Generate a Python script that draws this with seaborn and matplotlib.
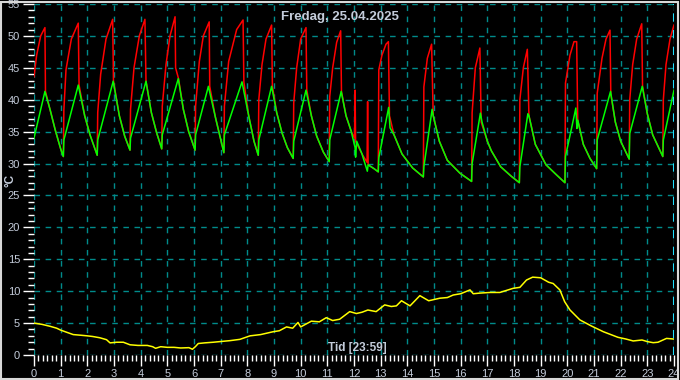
import matplotlib
matplotlib.use('Agg')
import matplotlib.pyplot as plt
from matplotlib.ticker import MultipleLocator
from matplotlib.patches import Rectangle
import seaborn as sns
import pandas as pd

# Flow temperature (red), hours / degC
red_t = [0.0, 0.1, 0.25, 0.41, 0.43, 0.6, 0.8, 1.0, 1.1,
         1.12, 1.2, 1.4, 1.66, 1.69, 1.9, 2.1, 2.37,
         2.39, 2.5, 2.7, 2.95, 2.98, 3.2, 3.4, 3.6,
         3.62, 3.75, 3.95, 4.16, 4.2, 4.4, 4.6, 4.79,
         4.81, 4.95, 5.1, 5.29, 5.31, 5.42, 5.6, 5.8, 6.04,
         6.06, 6.2, 6.35, 6.57, 6.59, 6.8, 7.0, 7.12,
         7.14, 7.3, 7.6, 7.84, 7.87, 8.05, 8.25, 8.41,
         8.43, 8.55, 8.7, 8.91, 8.94, 9.1, 9.3, 9.5, 9.72,
         9.74, 9.85, 10.0, 10.2, 10.23, 10.4, 10.6, 10.85, 11.07,
         11.09, 11.2, 11.35, 11.5, 11.53, 11.7, 11.9, 12.02, 12.04, 12.06,
         12.3, 12.49, 12.51, 12.53, 12.75, 12.91,
         12.93, 13.05, 13.2, 13.29, 13.33, 13.5, 13.8, 14.2, 14.6,
         14.62, 14.75, 14.91, 14.97, 15.2, 15.5, 15.97, 16.41,
         16.43, 16.55, 16.72, 16.77, 17.0, 17.15, 17.5, 17.9, 18.2,
         18.22, 18.35, 18.5, 18.56, 18.8, 19.2, 19.6, 19.91,
         19.93, 20.1, 20.25, 20.35, 20.39, 20.6, 20.85, 21.1,
         21.12, 21.3, 21.45, 21.6, 21.63, 21.8, 22.0, 22.32,
         22.34, 22.45, 22.6, 22.79, 22.82, 23.0, 23.2, 23.58,
         23.6, 23.7, 23.85, 24.0]
red_v = [43.6, 47.0, 50.0, 51.3, 41.3, 38.5, 35.2, 32.3, 31.1,
         38.4, 44.7, 49.5, 52.0, 42.3, 37.5, 34.5, 31.3,
         38.0, 44.0, 49.5, 52.6, 42.9, 37.5, 34.3, 32.1,
         38.5, 45.0, 50.0, 52.6, 42.9, 38.0, 34.8, 32.3,
         39.0, 45.5, 50.0, 53.0, 45.0, 43.3, 38.5, 35.0, 32.1,
         39.0, 46.0, 50.0, 52.2, 42.1, 37.3, 33.8, 31.7,
         39.0, 46.0, 51.0, 52.5, 42.8, 37.5, 33.5, 31.3,
         40.0, 45.5, 49.5, 51.7, 42.1, 38.0, 34.8, 32.5, 30.8,
         39.5, 45.0, 49.5, 51.3, 41.5, 37.5, 34.3, 31.8, 30.3,
         40.5, 45.0, 49.0, 50.8, 41.3, 37.5, 35.0, 34.0, 41.5, 33.5,
         31.5, 30.2, 39.7, 29.8, 29.2, 28.7,
         44.7, 47.0, 48.7, 49.1, 37.5, 34.5, 31.5, 29.3, 27.9,
         42.0, 46.5, 48.7, 37.5, 33.5, 30.5, 28.5, 27.2,
         38.0, 45.0, 48.1, 36.5, 33.5, 32.0, 29.5, 28.0, 27.0,
         40.0, 45.0, 47.9, 37.5, 33.0, 29.8, 28.2, 27.0,
         42.6, 47.0, 49.1, 49.1, 36.8, 33.0, 30.8, 29.2,
         41.0, 46.5, 49.5, 50.9, 40.9, 36.5, 33.5, 30.7,
         40.0, 45.5, 49.5, 51.9, 42.1, 37.8, 34.5, 31.1,
         40.0, 45.5, 49.5, 51.7]

# Return temperature (green)
green_t = [0.0, 0.41, 0.6, 0.8, 1.0, 1.1,
           1.12, 1.66, 1.9, 2.1, 2.37,
           2.39, 2.97, 3.2, 3.4, 3.6,
           3.62, 4.2, 4.4, 4.6, 4.79,
           4.81, 5.41, 5.6, 5.8, 6.04,
           6.06, 6.54, 6.8, 7.0, 7.12,
           7.14, 7.8, 8.05, 8.25, 8.41,
           8.43, 8.91, 9.1, 9.3, 9.5, 9.72,
           9.74, 10.2, 10.4, 10.6, 10.85, 11.07,
           11.09, 11.52, 11.7, 11.9, 12.04, 12.06, 12.1, 12.3, 12.5, 12.53, 12.75, 12.91,
           12.93, 13.3, 13.35, 13.5, 13.8, 14.2, 14.6,
           14.62, 14.93, 14.97, 15.2, 15.5, 15.97, 16.41,
           16.43, 16.74, 16.8, 17.0, 17.15, 17.5, 17.9, 18.2,
           18.22, 18.52, 18.56, 18.8, 19.2, 19.6, 19.91,
           19.93, 20.32, 20.36, 20.39, 20.6, 20.85, 21.1,
           21.12, 21.62, 21.8, 22.0, 22.32,
           22.34, 22.81, 23.0, 23.2, 23.58,
           23.6, 24.0]
green_v = [34.0, 41.3, 38.5, 35.2, 32.3, 31.1,
           33.7, 42.3, 37.5, 34.5, 31.3,
           33.7, 42.9, 37.5, 34.3, 32.1,
           34.0, 42.9, 38.0, 34.8, 32.3,
           34.5, 43.3, 38.5, 35.0, 32.1,
           34.5, 42.1, 37.3, 33.8, 31.7,
           34.5, 42.8, 37.5, 33.5, 31.3,
           33.7, 42.1, 38.0, 34.8, 32.5, 30.8,
           33.5, 41.5, 37.5, 34.3, 31.8, 30.3,
           33.7, 41.3, 37.5, 35.0, 32.5, 31.0, 33.5, 31.5, 28.8, 29.8, 29.2, 28.7,
           30.9, 38.8, 35.6, 34.5, 31.5, 29.3, 27.9,
           29.5, 38.5, 37.5, 33.5, 30.5, 28.5, 27.2,
           30.0, 37.9, 36.5, 33.5, 32.0, 29.5, 28.0, 27.0,
           29.5, 37.8, 37.5, 33.0, 29.8, 28.2, 27.0,
           31.1, 38.7, 35.5, 36.8, 33.0, 30.8, 29.2,
           33.7, 41.3, 36.5, 33.5, 30.7,
           34.7, 42.1, 37.8, 34.5, 31.1,
           33.7, 41.5]

# Outdoor temperature (yellow)
out_t = [0.0, 0.3, 0.6, 0.85, 1.0, 1.2, 1.47, 1.75, 2.0, 2.2, 2.47, 2.72, 2.85,
         3.1, 3.35, 3.6, 3.9, 4.25, 4.45, 4.56, 4.75, 5.0, 5.25, 5.5, 5.81, 5.94,
         6.05, 6.16, 6.4, 6.72, 6.97, 7.35, 7.72, 8.1, 8.5, 8.97, 9.2, 9.47,
         9.7, 9.9, 10.0, 10.4, 10.7, 10.96, 11.2, 11.46, 11.65, 11.84, 12.09, 12.3,
         12.52, 12.83, 13.15, 13.4, 13.59, 13.78, 14.1, 14.47, 14.8, 15.22, 15.5,
         15.72, 16.0, 16.35, 16.47, 16.72, 17.1, 17.47, 17.97, 18.22, 18.47, 18.7,
         19.0, 19.3, 19.47, 19.72, 19.9, 20.1, 20.47, 20.9, 21.35, 21.9, 22.2,
         22.47, 22.8, 23.0, 23.22, 23.4, 23.72, 24.0]
out_v = [5.0, 4.8, 4.5, 4.2, 3.9, 3.6, 3.2, 3.1, 3.0, 2.9, 2.7, 2.4, 1.9,
         2.0, 2.0, 1.6, 1.5, 1.5, 1.3, 1.05, 1.3, 1.2, 1.2, 1.1, 1.15, 0.9,
         1.3, 1.8, 1.9, 2.0, 2.1, 2.25, 2.45, 3.0, 3.2, 3.65, 3.8, 4.4,
         4.2, 5.1, 4.4, 5.3, 5.2, 5.85, 5.4, 5.6, 6.2, 6.8, 6.5, 6.7,
         7.05, 6.8, 7.85, 7.6, 7.7, 8.5, 7.7, 9.3, 8.5, 8.9, 9.0,
         9.4, 9.6, 10.2, 9.6, 9.7, 9.8, 9.8, 10.45, 10.6, 11.75, 12.2,
         12.1, 11.4, 11.2, 10.2, 8.35, 7.05, 5.5, 4.55, 3.65, 2.77, 2.5,
         2.2, 2.35, 2.1, 1.93, 2.0, 2.6, 2.5]

red = pd.DataFrame({'t': red_t, 'v': red_v})
green = pd.DataFrame({'t': green_t, 'v': green_v})
outdoor = pd.DataFrame({'t': out_t, 'v': out_v})

plt.rcParams['font.family'] = ['Liberation Sans', 'DejaVu Sans']
txt = '#c4ccda'

fig = plt.figure(figsize=(6.8, 3.8), dpi=100, facecolor='black')
ax = fig.add_axes([34 / 680, 1 - 355 / 380, 640 / 680, 351 / 380])
ax.set_facecolor('black')

sns.lineplot(data=red, x='t', y='v', color='#ff0000', lw=1.1, estimator=None, sort=False, ax=ax)
sns.lineplot(data=green, x='t', y='v', color='#00ff00', lw=1.1, estimator=None, sort=False, ax=ax)
sns.lineplot(data=outdoor, x='t', y='v', color='#ffff00', lw=1.1, estimator=None, sort=False, ax=ax)

ax.set_xlim(0, 24)
ax.set_ylim(0, 55)
ax.xaxis.set_major_locator(MultipleLocator(1))
ax.xaxis.set_minor_locator(MultipleLocator(1 / 6))
ax.yaxis.set_major_locator(MultipleLocator(5))
ax.yaxis.set_minor_locator(MultipleLocator(1))
ax.tick_params(which='major', length=8, width=1, color='white', labelcolor=txt, labelsize=8, pad=2)
ax.tick_params(which='minor', length=4, width=1, color='white')
for s in ax.spines.values():
    s.set_visible(False)

ax.grid(which='major', color='#008b8b', linestyle=(0, (4, 4)), linewidth=1)
ax.set_axisbelow(True)
ax.xaxis.get_major_ticks()[0].gridline.set_visible(False)
ax.yaxis.get_major_ticks()[0].gridline.set_visible(False)
ax.axvline(24, color='#20e0ff', linestyle=(0, (4, 4)), linewidth=1.5, zorder=5)

ax.set_xlabel('')
ax.set_ylabel('')
ax.text(0.478, 0.963, 'Fredag, 25.04.2025', transform=ax.transAxes, ha='center', va='center',
        color=txt, fontsize=9.5, fontweight='bold')
ax.text(0.505, 0.02, 'Tid [23:59]', transform=ax.transAxes, ha='center', va='center',
        color=txt, fontsize=8.5, fontweight='bold')
fig.text(10 / 680, 1 - 180 / 380, '°C', rotation=90, ha='center', va='center', color=txt,
         fontsize=8.5, fontweight='bold')

fig.patches.append(Rectangle((0.001, 0.003), 0.996, 0.993, transform=fig.transFigure,
                             fill=False, edgecolor='#d8d8d8', linewidth=1.5))

fig.savefig('out.png', dpi=100, facecolor='black')
